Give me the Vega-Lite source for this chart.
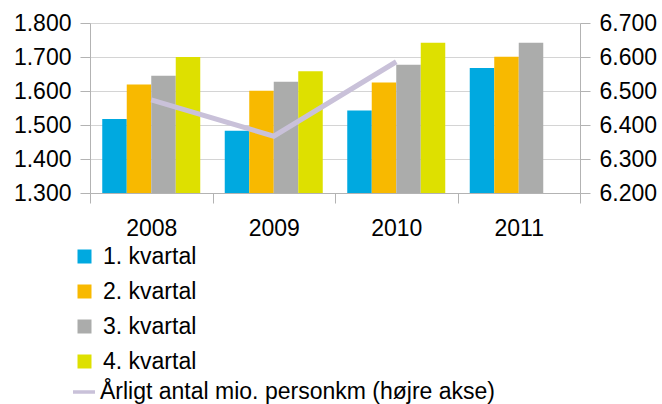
{
  "$schema": "https://vega.github.io/schema/vega-lite/v6.json",
  "width": 490,
  "height": 170,
  "autosize": "none",
  "padding": {"left": 90, "top": 23, "right": 82, "bottom": 211},
  "config": {
    "view": {"stroke": null},
    "font": "Liberation Sans",
    "locale": {"number": {"decimal": ",", "thousands": ".", "grouping": [3], "currency": ["", ""]}}
  },
  "datasets": {
    "bars": [
      {"year": "2008", "quarter": "1. kvartal", "value": 1518},
      {"year": "2008", "quarter": "2. kvartal", "value": 1619},
      {"year": "2008", "quarter": "3. kvartal", "value": 1645},
      {"year": "2008", "quarter": "4. kvartal", "value": 1700},
      {"year": "2009", "quarter": "1. kvartal", "value": 1483},
      {"year": "2009", "quarter": "2. kvartal", "value": 1601},
      {"year": "2009", "quarter": "3. kvartal", "value": 1627},
      {"year": "2009", "quarter": "4. kvartal", "value": 1658},
      {"year": "2010", "quarter": "1. kvartal", "value": 1543},
      {"year": "2010", "quarter": "2. kvartal", "value": 1625},
      {"year": "2010", "quarter": "3. kvartal", "value": 1677},
      {"year": "2010", "quarter": "4. kvartal", "value": 1742},
      {"year": "2011", "quarter": "1. kvartal", "value": 1668},
      {"year": "2011", "quarter": "2. kvartal", "value": 1701},
      {"year": "2011", "quarter": "3. kvartal", "value": 1742}
    ],
    "line": [
      {"year": "2008", "series": "Årligt antal mio. personkm (højre akse)", "value": 6474},
      {"year": "2009", "series": "Årligt antal mio. personkm (højre akse)", "value": 6367},
      {"year": "2010", "series": "Årligt antal mio. personkm (højre akse)", "value": 6586}
    ]
  },
  "layer": [
    {
      "data": {"name": "bars"},
      "mark": {"type": "bar", "clip": true},
      "encoding": {
        "x": {
          "field": "year", "type": "nominal", "title": null,
          "scale": {"paddingInner": 0, "paddingOuter": 0},
          "axis": {
            "labelAngle": 0, "labelFontSize": 23, "labelColor": "#000000", "labelPadding": 14,
            "tickBand": "extent", "tickSize": 10, "tickColor": "#b3b3b3", "domainColor": "#b3b3b3",
            "grid": false
          }
        },
        "xOffset": {"field": "quarter", "type": "nominal", "scale": {"paddingInner": 0, "paddingOuter": 0.5}},
        "y": {
          "field": "value", "type": "quantitative", "title": null,
          "scale": {"domain": [1300, 1800], "zero": false, "nice": false},
          "axis": {
            "values": [1300, 1400, 1500, 1600, 1700, 1800], "format": ",.0f",
            "labelFontSize": 23, "labelColor": "#000000", "labelPadding": 9,
            "tickSize": 10, "tickColor": "#b3b3b3", "domainColor": "#b3b3b3",
            "grid": true, "gridColor": "#d4d4d4"
          }
        },
        "color": {
          "field": "quarter", "type": "nominal",
          "scale": {"range": ["#00a9e0", "#f8b900", "#abacab", "#dee000"]},
          "legend": {
            "orient": "none", "legendX": -17, "legendY": 222, "direction": "vertical",
            "title": null, "padding": 0, "symbolType": "square", "symbolSize": 196,
            "symbolStrokeWidth": 0, "labelFontSize": 23, "labelColor": "#000000",
            "rowPadding": 11, "labelOffset": 7, "labelLimit": 0
          }
        }
      }
    },
    {
      "data": {"name": "line"},
      "mark": {"type": "line", "strokeWidth": 5, "strokeCap": "butt"},
      "encoding": {
        "x": {"field": "year", "type": "nominal"},
        "y": {
          "field": "value", "type": "quantitative", "title": null,
          "scale": {"domain": [6200, 6700], "zero": false, "nice": false},
          "axis": {
            "orient": "right",
            "values": [6200, 6300, 6400, 6500, 6600, 6700], "format": ",.0f",
            "labelFontSize": 23, "labelColor": "#000000", "labelPadding": 9,
            "tickSize": 10, "tickColor": "#b3b3b3", "domainColor": "#b3b3b3",
            "grid": false
          }
        },
        "stroke": {
          "field": "series", "type": "nominal",
          "scale": {"range": ["#c9c1d9"]},
          "legend": {
            "orient": "none", "legendX": -19, "legendY": 356, "direction": "vertical",
            "title": null, "padding": 0, "symbolType": "stroke", "symbolSize": 484,
            "symbolStrokeWidth": 3.5, "labelFontSize": 23, "labelColor": "#000000",
            "labelOffset": 3, "labelLimit": 0
          }
        }
      }
    }
  ],
  "resolve": {"scale": {"y": "independent"}}
}
